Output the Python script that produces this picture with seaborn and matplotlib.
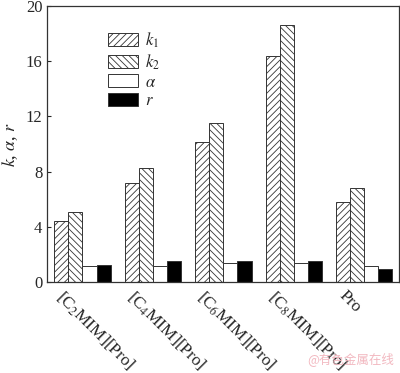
import matplotlib
matplotlib.use("Agg")
import matplotlib.pyplot as plt
import matplotlib.transforms as mtransforms
import seaborn as sns
import pandas as pd

# values
groups = ['[C$_2$MIM][Pro]', '[C$_4$MIM][Pro]', '[C$_6$MIM][Pro]', '[C$_8$MIM][Pro]', 'Pro']
k1 = [4.45, 7.2, 10.15, 16.4, 5.8]
k2 = [5.05, 8.25, 11.55, 18.6, 6.8]
alpha = [1.15, 1.15, 1.35, 1.35, 1.15]
r = [1.2, 1.55, 1.5, 1.5, 0.92]

series_names = ['$k_1$', '$k_2$', r'$\alpha$', '$r$']

df = pd.DataFrame({
    'group': groups * 4,
    'series': [s for s in series_names for _ in groups],
    'value': k1 + k2 + alpha + r,
})

sns.set_style("ticks")
plt.rcParams['font.family'] = ['Liberation Serif', 'DejaVu Serif']
plt.rcParams['mathtext.fontset'] = 'stix'
plt.rcParams['hatch.linewidth'] = 0.6
plt.rcParams['hatch.color'] = '#333333'

fig, ax = plt.subplots(figsize=(4.0, 3.73), dpi=100)
sns.barplot(data=df, x='group', y='value', hue='series', order=groups,
            hue_order=series_names, width=0.8, ax=ax,
            palette=['white', 'white', 'white', 'black'],
            edgecolor='#333333', linewidth=0.7, errorbar=None)

hatches = ['/////', '\\\\\\\\\\', '', '']
for cont, h in zip(ax.containers, hatches):
    for bar in cont:
        bar.set_hatch(h)

ax.set_ylim(0, 20)
ax.set_xlim(-0.5, 4.49)
ax.set_yticks([0, 4, 8, 12, 16, 20])
ax.tick_params(axis='y', direction='in', length=3, labelsize=12, width=0.8)
ax.tick_params(axis='x', length=0, labelsize=12.5, pad=4)
for sp in ax.spines.values():
    sp.set_linewidth(0.9)
    sp.set_color('#333333')

ax.set_xlabel('')
ax.set_ylabel(r'$k$, $\alpha$, $r$', fontsize=13, labelpad=4)

offset = mtransforms.ScaledTranslation(-0.17, 0, fig.dpi_scale_trans)
for lab in ax.get_xticklabels():
    lab.set_rotation(-45)
    lab.set_ha('left')
    lab.set_va('top')
    lab.set_rotation_mode('anchor')
    lab.set_transform(lab.get_transform() + offset)

leg = ax.legend(title=None, frameon=False, loc='upper left', bbox_to_anchor=(0.13, 0.965),
                fontsize=12, handlelength=1.8, handleheight=0.8, labelspacing=0.15,
                handletextpad=0.4)
for handle, h in zip(leg.legend_handles, hatches):
    handle.set_hatch(h)
    handle.set_edgecolor('#333333')

fig.text(0.985, 0.02, '@有色金属在线', ha='right', va='bottom', fontsize=9,
         color='#f2b8c0', family=['Noto Sans CJK SC', 'DejaVu Sans'])

fig.subplots_adjust(left=0.118, right=0.997, top=0.984, bottom=0.244)
fig.savefig('out.png', dpi=100)
